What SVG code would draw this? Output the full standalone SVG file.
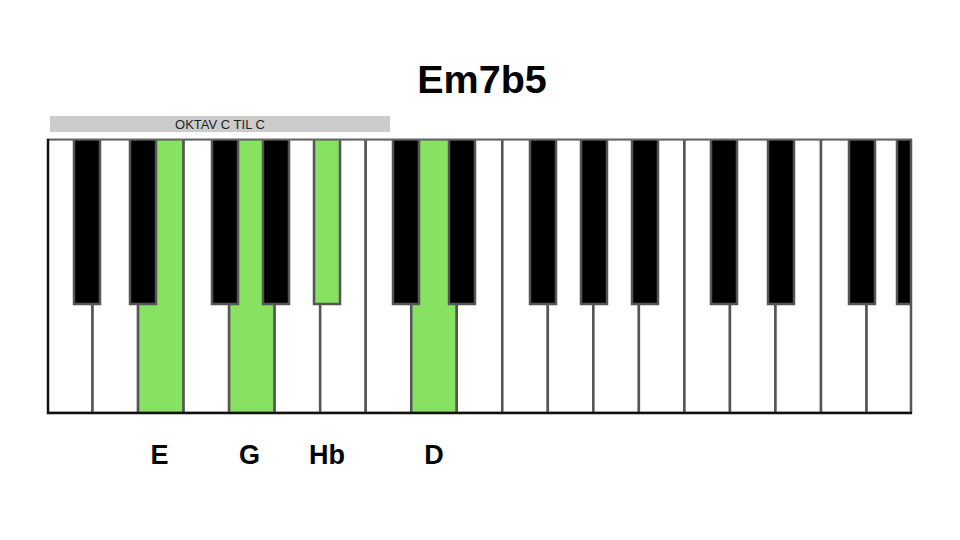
<svg xmlns="http://www.w3.org/2000/svg" width="960" height="540" viewBox="0 0 960 540">
<defs>
<style>
.w{fill:#fff;stroke:#555;stroke-width:2.5}
.wg{fill:#88e262;stroke:#555;stroke-width:2.5}
.b{fill:#000;stroke:#555;stroke-width:2.5}
.bg{fill:#88e262;stroke:#555;stroke-width:2.5}
.t{font-family:"Liberation Sans",Arial,sans-serif;font-weight:bold;fill:#000;text-anchor:middle}
</style>
<clipPath id="kb"><rect x="47" y="139" width="865" height="275"/></clipPath>
</defs>
<rect width="960" height="540" fill="#fff"/>
<text class="t" x="482" y="93" font-size="39.5">Em7b5</text>
<g id="octave-bar">
<rect x="50" y="116" width="340" height="16" fill="#ccc"/>
<text x="220" y="129" font-family="Liberation Sans,Arial,sans-serif" font-size="13" text-anchor="middle" fill="#222">OKTAV C TIL C</text>
</g>
<g id="keyboard" clip-path="url(#kb)">
<g id="white-keys">
<rect class="w" x="47" y="139" width="45.53" height="274"/>
<rect class="w" x="92.53" y="139" width="45.53" height="274"/>
<rect class="wg" x="138.06" y="139" width="45.53" height="274"/>
<rect class="w" x="183.59" y="139" width="45.53" height="274"/>
<rect class="wg" x="229.12" y="139" width="45.53" height="274"/>
<rect class="w" x="274.65" y="139" width="45.53" height="274"/>
<rect class="w" x="320.18" y="139" width="45.53" height="274"/>
<rect class="w" x="365.71" y="139" width="45.53" height="274"/>
<rect class="wg" x="411.24" y="139" width="45.53" height="274"/>
<rect class="w" x="456.77" y="139" width="45.53" height="274"/>
<rect class="w" x="502.3" y="139" width="45.53" height="274"/>
<rect class="w" x="547.83" y="139" width="45.53" height="274"/>
<rect class="w" x="593.36" y="139" width="45.53" height="274"/>
<rect class="w" x="638.89" y="139" width="45.53" height="274"/>
<rect class="w" x="684.42" y="139" width="45.53" height="274"/>
<rect class="w" x="729.95" y="139" width="45.53" height="274"/>
<rect class="w" x="775.48" y="139" width="45.53" height="274"/>
<rect class="w" x="821.01" y="139" width="45.53" height="274"/>
<rect class="w" x="866.54" y="139" width="45.53" height="274"/>
</g>
<g id="black-keys">
<rect class="b" x="74" y="139" width="26" height="165"/>
<rect class="b" x="130" y="139" width="26" height="165"/>
<rect class="b" x="212" y="139" width="26" height="165"/>
<rect class="b" x="263" y="139" width="26" height="165"/>
<rect class="bg" x="314" y="139" width="26" height="165"/>
<rect class="b" x="393" y="139" width="26" height="165"/>
<rect class="b" x="449" y="139" width="26" height="165"/>
<rect class="b" x="530" y="139" width="26" height="165"/>
<rect class="b" x="581" y="139" width="26" height="165"/>
<rect class="b" x="632" y="139" width="26" height="165"/>
<rect class="b" x="711" y="139" width="26" height="165"/>
<rect class="b" x="768" y="139" width="26" height="165"/>
<rect class="b" x="849" y="139" width="26" height="165"/>
<rect class="b" x="897" y="139" width="26" height="165"/>
</g>
</g>
<g id="frame" fill="none">
<line x1="47" y1="139.5" x2="912" y2="139.5" stroke="#666" stroke-width="2"/>
<line x1="48" y1="139" x2="48" y2="414" stroke="#111" stroke-width="2.5"/>
<line x1="911" y1="139" x2="911" y2="414" stroke="#555" stroke-width="2.5"/>
<line x1="47" y1="413" x2="912" y2="413" stroke="#111" stroke-width="2.5"/>
</g>
<g id="labels">
<text class="t" x="159.5" y="464" font-size="27">E</text>
<text class="t" x="249.5" y="464" font-size="27">G</text>
<text class="t" x="327" y="464" font-size="27">Hb</text>
<text class="t" x="434" y="464" font-size="27">D</text>
</g>
</svg>
